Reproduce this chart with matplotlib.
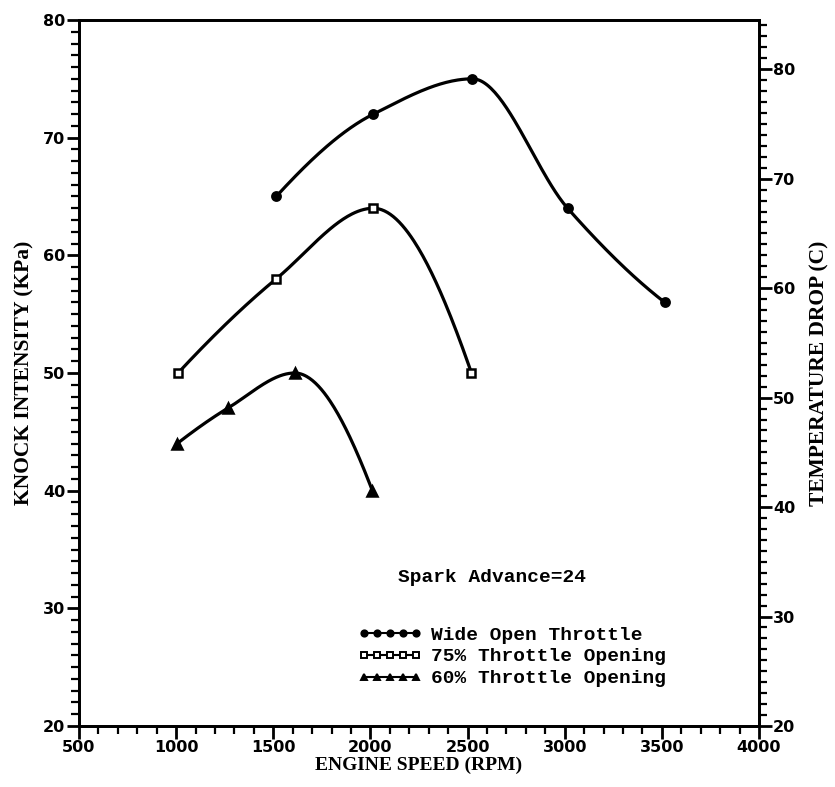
import numpy as np
import matplotlib
matplotlib.use("Agg")
import matplotlib.pyplot as plt
from matplotlib.ticker import MultipleLocator

# ---- data ----
wot_rpm = [1515, 2015, 2525, 3015, 3515]
wot_knock = [65, 72, 75, 64, 56]
t75_rpm = [1010, 1515, 2015, 2520]
t75_knock = [50, 58, 64, 50]
t60_rpm = [1005, 1265, 1610, 2010]
t60_knock = [44, 47, 50, 40]

series_labels = ["Wide Open Throttle", "75% Throttle Opening", "60% Throttle Opening"]
x_ticks = [500, 1000, 1500, 2000, 2500, 3000, 3500, 4000]
y_ticks = [20, 30, 40, 50, 60, 70, 80]
y2_ticks = [20, 30, 40, 50, 60, 70, 80]


def pchip(x, y, n=200):
    x = np.asarray(x, float)
    y = np.asarray(y, float)
    h = np.diff(x)
    d = np.diff(y) / h
    m = np.zeros_like(y)
    for k in range(1, len(x) - 1):
        if d[k - 1] * d[k] <= 0:
            m[k] = 0.0
        else:
            w1 = 2 * h[k] + h[k - 1]
            w2 = h[k] + 2 * h[k - 1]
            m[k] = (w1 + w2) / (w1 / d[k - 1] + w2 / d[k])
    m[0] = d[0]
    m[-1] = d[-1]
    if len(x) > 2:
        m[0] = ((2 * h[0] + h[1]) * d[0] - h[0] * d[1]) / (h[0] + h[1])
        if np.sign(m[0]) != np.sign(d[0]):
            m[0] = 0
        m[-1] = ((2 * h[-1] + h[-2]) * d[-1] - h[-1] * d[-2]) / (h[-1] + h[-2])
        if np.sign(m[-1]) != np.sign(d[-1]):
            m[-1] = 0
    xs = np.linspace(x[0], x[-1], n)
    idx = np.clip(np.searchsorted(x, xs) - 1, 0, len(x) - 2)
    t = (xs - x[idx]) / h[idx]
    h00 = 2 * t**3 - 3 * t**2 + 1
    h10 = t**3 - 2 * t**2 + t
    h01 = -2 * t**3 + 3 * t**2
    h11 = t**3 - t**2
    ys = h00 * y[idx] + h10 * h[idx] * m[idx] + h01 * y[idx + 1] + h11 * h[idx] * m[idx + 1]
    return xs, ys


fig = plt.figure(figsize=(8.35, 7.87), dpi=100)
ax = fig.add_axes([0.0946, 0.0775, 0.8144, 0.8971])

tick_font = dict(family="DejaVu Sans", weight="bold", size=11.5)
xlabel_font = dict(family="Liberation Serif", weight="bold", size=14)
ylabel_font = dict(family="Liberation Serif", weight="bold", size=15.5)
mono_font = dict(family="Liberation Mono", weight="bold", size=14)

lw = 2.3
handles = []
for xs_, ys_, mk, ms, fc in [
    (wot_rpm, wot_knock, "o", 6, "black"),
    (t75_rpm, t75_knock, "s", 5.5, "white"),
    (t60_rpm, t60_knock, "^", 6.5, "black"),
]:
    sx, sy = pchip(xs_, ys_)
    ax.plot(sx, sy, color="black", lw=lw, solid_capstyle="round")
    ax.plot(xs_, ys_, linestyle="none", marker=mk, ms=ms, mfc=fc, mec="black", mew=1.8)
    h, = ax.plot([], [], color="black", lw=1.5, marker=mk, ms=ms - 1.5, mfc=fc, mec="black", mew=1.4)
    handles.append(h)

ax.set_xlim(500, 4000)
ax.set_ylim(20, 80)
ax.set_xticks(x_ticks)
ax.set_yticks(y_ticks)
ax.xaxis.set_minor_locator(MultipleLocator(100))
ax.yaxis.set_minor_locator(MultipleLocator(1))

ax2 = ax.twinx()
ax2.set_ylim(20, 84.5)
ax2.set_yticks(y2_ticks)
ax2.yaxis.set_minor_locator(MultipleLocator(1))

for a in (ax, ax2):
    for s in a.spines.values():
        s.set_linewidth(2.0)
    a.tick_params(which="major", direction="out", length=9, width=2.0)
    a.tick_params(which="minor", direction="out", length=6, width=1.6)

ax.tick_params(axis="x", pad=1)
ax.tick_params(axis="y", pad=1)
ax2.tick_params(axis="y", pad=1)
for lab in ax.get_xticklabels() + ax.get_yticklabels() + ax2.get_yticklabels():
    lab.set_fontfamily(tick_font["family"])
    lab.set_fontweight(tick_font["weight"])
    lab.set_fontsize(tick_font["size"])

ax.set_xlabel("ENGINE SPEED (RPM)", labelpad=1, **xlabel_font)
ax.set_ylabel("KNOCK INTENSITY (KPa)", labelpad=6, **ylabel_font)
ax2.set_ylabel("TEMPERATURE DROP (C)", labelpad=10, **ylabel_font)

ax.text(2142, 32.6, "Spark Advance=24", ha="left", va="center", **mono_font)

leg = ax.legend(handles, series_labels, loc="upper left",
                bbox_to_anchor=(1935, 28.5), bbox_transform=ax.transData,
                frameon=False, numpoints=5, handlelength=3.3, handletextpad=0.45,
                labelspacing=0.22, borderpad=0, borderaxespad=0,
                prop=dict(family="Liberation Mono", weight="bold", size=14))

fig.savefig("out.png", dpi=100)
